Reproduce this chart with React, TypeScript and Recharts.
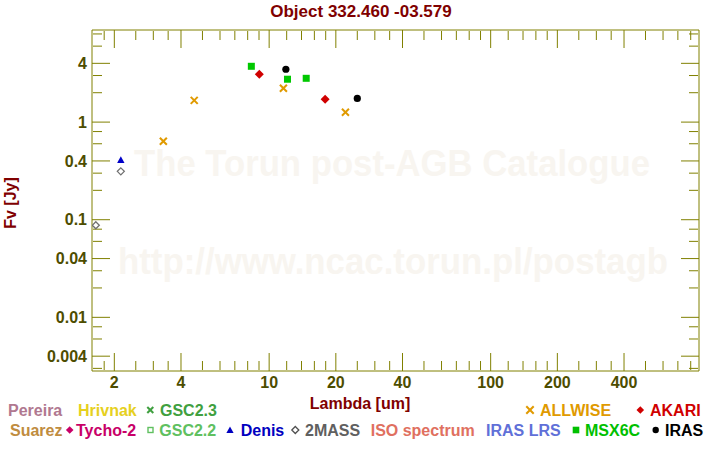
import React from "react";
import { ScatterChart, Scatter, XAxis, YAxis } from "recharts";

// axis ranges and ticks
const xDomain = [1.586, 872];
const yDomain = [0.00282, 8.78];
const xMajor = [2, 4, 10, 20, 40, 100, 200, 400];
const xMinor = [1.8, 2.5, 3, 3.5, 5, 6, 7, 8, 9, 12, 14, 16, 18, 25, 30, 35, 50, 60, 70, 80, 90, 120, 140, 160, 180, 250, 300, 350, 500, 600, 700, 800];
const yMajor = [0.004, 0.01, 0.04, 0.1, 0.4, 1, 4];
const yMinor = [0.003, 0.006, 0.008, 0.02, 0.03, 0.06, 0.08, 0.2, 0.3, 0.6, 0.8, 2, 3, 6, 8];

// photometry: wavelength [um] and flux [Jy]
const twoMassLambda = [1.65, 2.14];
const twoMassFlux = [0.0877, 0.313];
const denisLambda = [2.14];
const denisFlux = [0.409];
const allwiseLambda = [3.33, 4.59, 11.6, 22.1];
const allwiseFlux = [0.636, 1.67, 2.22, 1.26];
const msxLambda = [8.31, 12.1, 14.7];
const msxFlux = [3.73, 2.75, 2.81];
const akariLambda = [9.03, 17.9];
const akariFlux = [3.09, 1.71];
const irasLambda = [11.9, 25.0];
const irasFlux = [3.48, 1.75];

const OLIVE = "#808000";
const LABEL = "#4d4d00";
const DARKRED = "#800000";
const FONT = "'Liberation Sans', Arial, Helvetica, sans-serif";

const pts = (xs: number[], ys: number[]) => xs.map((x, i) => ({ x, y: ys[i] }));
// invisible points so the frame axes get a domain
const framePts = pts(xDomain, yDomain);

const Cross = ({ cx, cy, color, s = 3.5 }: any) => (
  <g stroke={color} strokeWidth={2}>
    <line x1={cx - s} y1={cy - s} x2={cx + s} y2={cy + s} />
    <line x1={cx - s} y1={cy + s} x2={cx + s} y2={cy - s} />
  </g>
);
const Diamond = ({ cx, cy, color, s = 4.5 }: any) => (
  <polygon points={`${cx},${cy - s} ${cx + s},${cy} ${cx},${cy + s} ${cx - s},${cy}`} fill={color} />
);
const OpenDiamond = ({ cx, cy, color, s = 3.5 }: any) => (
  <polygon points={`${cx},${cy - s} ${cx + s},${cy} ${cx},${cy + s} ${cx - s},${cy}`} fill="#fff" stroke={color} strokeWidth={1.3} />
);
const Square = ({ cx, cy, color, s = 3.5 }: any) => (
  <rect x={cx - s} y={cy - s} width={2 * s} height={2 * s} fill={color} />
);
const Dot = ({ cx, cy, color, s = 3.6 }: any) => <circle cx={cx} cy={cy} r={s} fill={color} />;
const Tri = ({ cx, cy, color, s = 3.7 }: any) => (
  <polygon points={`${cx},${cy - s} ${cx + s},${cy + s * 0.8} ${cx - s},${cy + s * 0.8}`} fill={color} />
);

const blank = () => "";

// mirrored axes used only to draw the inward tick marks and the top/right frame
const tickAxisX = (id: string, orientation: "top" | "bottom", ticks: number[], size: number, line: boolean) => (
  <XAxis
    key={id}
    xAxisId={id}
    dataKey="x"
    orientation={orientation}
    type="number"
    scale="log"
    domain={xDomain}
    allowDataOverflow
    ticks={ticks}
    interval={0}
    mirror
    height={1}
    tickSize={size}
    tickFormatter={blank}
    tick={{ fontSize: 0 }}
    tickLine={{ stroke: OLIVE }}
    axisLine={line ? { stroke: OLIVE } : false}
  />
);

const tickAxisY = (id: string, orientation: "left" | "right", ticks: number[], size: number, line: boolean) => (
  <YAxis
    key={id}
    yAxisId={id}
    dataKey="y"
    orientation={orientation}
    type="number"
    scale="log"
    domain={yDomain}
    allowDataOverflow
    ticks={ticks}
    interval={0}
    mirror
    width={1}
    tickSize={size}
    tickFormatter={blank}
    tick={{ fontSize: 0 }}
    tickLine={{ stroke: OLIVE }}
    axisLine={line ? { stroke: OLIVE } : false}
  />
);

const frameScatter = (xId: string, yId: string) => (
  <Scatter key={xId + yId} xAxisId={xId} yAxisId={yId} data={framePts} isAnimationActive={false} shape={() => <g />} />
);

const txt = { fontFamily: FONT, fontWeight: "bold", fontSize: 16 } as const;

function Overlay() {
  return (
    <svg width={720} height={450} style={{ position: "absolute", left: 0, top: 0, pointerEvents: "none" }}>
      <text x={361} y={17} textAnchor="middle" fill={DARKRED} style={{ ...txt, fontSize: 17 }}>
        Object 332.460 -03.579
      </text>
      <text x={360} y={409} textAnchor="middle" fill={DARKRED} style={txt}>
        Lambda [um]
      </text>
      <text x={16} y={203} textAnchor="middle" transform="rotate(-90 16 203)" fill={DARKRED} style={txt}>
        Fv [Jy]
      </text>
      {/* legend row 1 */}
      <g style={txt}>
        <text x={8} y={415.5} fill="#b07890">Pereira</text>
        <text x={78} y={415.5} fill="#e6d020">Hrivnak</text>
        <Cross cx={150.3} cy={410} color="#40a040" s={3} />
        <text x={160} y={415.5} fill="#40a040">GSC2.3</text>
        <Cross cx={530} cy={410} color="#e09a00" s={3.7} />
        <text x={540} y={415.5} fill="#e09a00">ALLWISE</text>
        <Diamond cx={640.3} cy={410} color="#d00000" s={3.8} />
        <text x={650} y={415.5} fill="#d00000">AKARI</text>
        {/* legend row 2 */}
        <text x={10} y={435.7} fill="#c08c40">Suarez</text>
        <Diamond cx={69.7} cy={430} color="#c80068" s={3.8} />
        <text x={76} y={435.7} fill="#c80068">Tycho-2</text>
        <rect x={148} y={427.5} width={5} height={5} fill="#fff" stroke="#60c060" strokeWidth={1.4} />
        <text x={159.3} y={435.7} fill="#60c060">GSC2.2</text>
        <Tri cx={230} cy={430} color="#0000c0" s={3.6} />
        <text x={240.7} y={435.7} fill="#0000c0">Denis</text>
        <OpenDiamond cx={295.3} cy={430} color="#505050" s={3.5} />
        <text x={305} y={435.7} fill="#606060">2MASS</text>
        <text x={370.7} y={435.7} fill="#e07060">ISO spectrum</text>
        <text x={486} y={435.7} fill="#6070d8">IRAS LRS</text>
        <Square cx={576} cy={430} color="#00c000" s={3.3} />
        <text x={585} y={435.7} fill="#00c000">MSX6C</text>
        <Dot cx={655.7} cy={430} color="#000" s={3.2} />
        <text x={665} y={435.7} fill="#000">IRAS</text>
      </g>
    </svg>
  );
}

function Watermark() {
  return (
    <svg width={720} height={450} style={{ position: "absolute", left: 0, top: 0 }}>
      <text x={392} y={176} textAnchor="middle" fill="#f8f5f0" textLength={516} lengthAdjust="spacingAndGlyphs" style={{ ...txt, fontSize: 36 }}>
        The Torun post-AGB Catalogue
      </text>
      <text x={393} y={274} textAnchor="middle" fill="#f8f5f0" textLength={550} lengthAdjust="spacingAndGlyphs" style={{ ...txt, fontSize: 36 }}>
        http://www.ncac.torun.pl/postagb
      </text>
    </svg>
  );
}

export default function App() {
  const tickStyle = { fill: LABEL, fontSize: 16, fontWeight: "bold", fontFamily: FONT };
  return (
    <div style={{ position: "relative", width: 720, height: 450, background: "#fff" }}>
      <style>{"body{margin:0}"}</style>
      <Watermark />
      <div style={{ position: "absolute", left: 0, top: 0 }}>
        <ScatterChart width={720} height={450} margin={{ top: 30, right: 21, bottom: 0, left: 0 }}>
          <XAxis
            xAxisId="x"
            dataKey="x"
            type="number"
            scale="log"
            domain={xDomain}
            allowDataOverflow
            ticks={xMajor}
            interval={0}
            height={79}
            tickSize={0}
            tickMargin={6}
            tick={tickStyle}
            tickLine={false}
            axisLine={{ stroke: OLIVE }}
          />
          <YAxis
            yAxisId="y"
            dataKey="y"
            type="number"
            scale="log"
            domain={yDomain}
            allowDataOverflow
            ticks={yMajor}
            interval={0}
            width={92}
            tickSize={0}
            tickMargin={5}
            tick={tickStyle}
            tickLine={false}
            axisLine={{ stroke: OLIVE }}
          />
          {tickAxisX("xbMaj", "bottom", xMajor, 18, false)}
          {tickAxisX("xbMin", "bottom", xMinor, 9, false)}
          {tickAxisX("xtMaj", "top", xMajor, 18, true)}
          {tickAxisX("xtMin", "top", xMinor, 9, false)}
          {tickAxisY("ylMaj", "left", yMajor, 18, false)}
          {tickAxisY("ylMin", "left", yMinor, 9, false)}
          {tickAxisY("yrMaj", "right", yMajor, 18, true)}
          {tickAxisY("yrMin", "right", yMinor, 9, false)}
          {frameScatter("xbMaj", "ylMaj")}
          {frameScatter("xbMin", "ylMin")}
          {frameScatter("xtMaj", "yrMaj")}
          {frameScatter("xtMin", "yrMin")}
          <Scatter xAxisId="x" yAxisId="y" name="2MASS" data={pts(twoMassLambda, twoMassFlux)} isAnimationActive={false}
            shape={(p: any) => <OpenDiamond cx={p.cx} cy={p.cy} color="#707070" />} />
          <Scatter xAxisId="x" yAxisId="y" name="Denis" data={pts(denisLambda, denisFlux)} isAnimationActive={false}
            shape={(p: any) => <Tri cx={p.cx} cy={p.cy} color="#0000c8" />} />
          <Scatter xAxisId="x" yAxisId="y" name="ALLWISE" data={pts(allwiseLambda, allwiseFlux)} isAnimationActive={false}
            shape={(p: any) => <Cross cx={p.cx} cy={p.cy} color="#e09a00" />} />
          <Scatter xAxisId="x" yAxisId="y" name="MSX6C" data={pts(msxLambda, msxFlux)} isAnimationActive={false}
            shape={(p: any) => <Square cx={p.cx} cy={p.cy} color="#00c800" />} />
          <Scatter xAxisId="x" yAxisId="y" name="AKARI" data={pts(akariLambda, akariFlux)} isAnimationActive={false}
            shape={(p: any) => <Diamond cx={p.cx} cy={p.cy} color="#d00000" />} />
          <Scatter xAxisId="x" yAxisId="y" name="IRAS" data={pts(irasLambda, irasFlux)} isAnimationActive={false}
            shape={(p: any) => <Dot cx={p.cx} cy={p.cy} color="#000" />} />
        </ScatterChart>
      </div>
      <Overlay />
    </div>
  );
}
